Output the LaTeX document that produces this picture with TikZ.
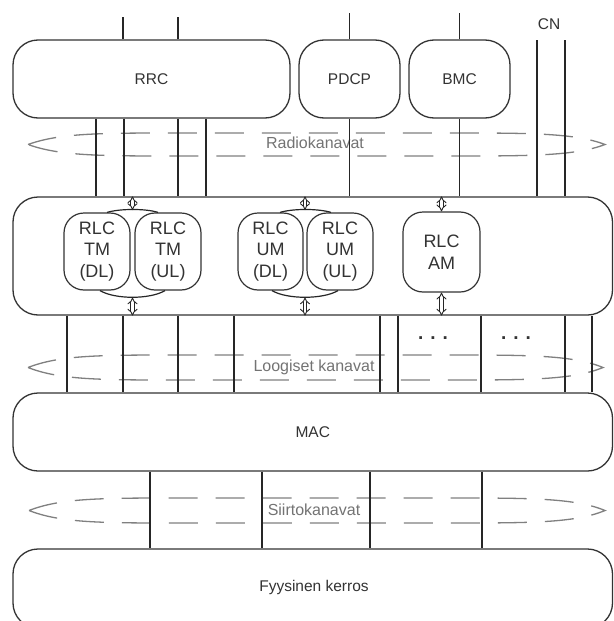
\documentclass[tikz,border=0pt]{standalone}
\usepackage{fontspec}
\setmainfont{Liberation Sans}
\usetikzlibrary{arrows.meta}
\begin{document}
\begin{tikzpicture}[x=1pt,y=-1pt,
  box/.style={draw=black!80, line width=1.3pt, rounded corners=25pt, inner sep=0pt,
    font=\fontsize{15.5}{18}\selectfont, text=black!80},
  sub/.style={draw=black!80, line width=1.2pt, rounded corners=20pt, inner sep=0pt,
    align=center, font=\fontsize{18}{21.6}\selectfont, text=black!80},
  ln/.style={line width=1.2pt, draw=black!85},
  chan/.style={draw=black!50, line width=1.3pt, dash pattern=on 29pt off 18pt},
  chlabel/.style={text=black!55, font=\fontsize{16}{19}\selectfont},
  dbl/.style={double distance=2.6pt, line width=0.9pt, draw=black!85,
    {Implies[length=4pt]}-{Implies[length=4pt]}},
  dots/.style={text=black!80, font=\fontsize{19}{22}\selectfont\bfseries, anchor=base}
]
\clip (0,0) rectangle (613,621);
\fill[white] (0,0) rectangle (613,621);

% upper boxes
\node[box, minimum width=277pt, minimum height=78pt] (rrc) at (151.5,79) {RRC};
\node[box, minimum width=101pt, minimum height=78pt] (pdcp) at (349.5,79) {PDCP};
\node[box, minimum width=101pt, minimum height=78pt] (bmc) at (459.5,79) {BMC};
\node[text=black!80, font=\fontsize{15.5}{18}\selectfont] (cn) at (549,24) {CN};

% layer boxes
\node[box, minimum width=599.5pt, minimum height=118pt] (rlc) at (312.75,256) {};
\node[box, minimum width=599.5pt, minimum height=78pt] (mac) at (312.75,432) {MAC};
\node[box, minimum width=599.5pt, minimum height=79pt] (phy) at (312.75,588.5) {};
\node[text=black!80, font=\fontsize{15.5}{18}\selectfont] (phylabel) at (314,587) {Fyysinen kerros};

% RLC entities
\node[sub, minimum width=66pt, minimum height=77pt] (tmdl) at (97,251.5) {RLC\\TM\\(DL)};
\node[sub, minimum width=66pt, minimum height=77pt] (tmul) at (168,251.5) {RLC\\TM\\(UL)};
\node[sub, minimum width=65pt, minimum height=77pt] (umdl) at (270.5,251.5) {RLC\\UM\\(DL)};
\node[sub, minimum width=66pt, minimum height=77pt] (umul) at (340,251.5) {RLC\\UM\\(UL)};
\node[sub, minimum width=77pt, minimum height=80pt] (am) at (441.5,252) {RLC\\AM};

% channel "pipes"
\foreach \yc/\b/\l/\r in {144.5/11.5/28/605, 367.5/12.5/28/603, 510.5/12.5/29/605}{
  \draw[chan] (\l,\yc) .. controls (\l+32,\yc-\b) and (\l+72,\yc-\b) .. (\l+152,\yc-\b)
    -- (\r-155,\yc-\b) .. controls (\r-75,\yc-\b) and (\r-30,\yc-\b) .. (\r,\yc)
    .. controls (\r-30,\yc+\b) and (\r-75,\yc+\b) .. (\r-155,\yc+\b)
    -- (\l+152,\yc+\b) .. controls (\l+72,\yc+\b) and (\l+32,\yc+\b) .. (\l,\yc);
}
\node[chlabel] (radio) at (315,143) {Radiokanavat};
\node[chlabel] (logic) at (314,367) {Loogiset kanavat};
\node[chlabel] (trans) at (314,510) {Siirtokanavat};

% lines above upper boxes
\foreach \x in {123,178}{ \draw[ln] (rrc.north -| \x,0) -- (\x,17); }
\draw[ln] (pdcp.north) -- (349.5,13);
\draw[ln] (bmc.north) -- (459.5,13);
\foreach \x in {537,565}{ \draw[ln] (\x,40) -- (rlc.north -| \x,0); }

% radio bearers
\foreach \x in {96,124,178,206}{ \draw[ln] (rrc.south -| \x,0) -- (rlc.north -| \x,0); }
\draw[ln] (pdcp.south) -- (rlc.north -| pdcp.south);
\draw[ln] (bmc.south) -- (rlc.north -| bmc.south);

% logical channels
\foreach \x in {67,123,178,234,380,398,481,565,592}{ \draw[ln] (rlc.south -| \x,0) -- (mac.north -| \x,0); }
\node[dots] (d1) at (433,339) {. . .};
\node[dots] (d2) at (516,339) {. . .};

% transport channels
\foreach \x in {150,262,370,482}{ \draw[ln] (mac.south -| \x,0) -- (phy.north -| \x,0); }

% pair connectors and SAP arrows
\draw[ln] (tmdl.north -| 107,0) .. controls (120,208.5) and (146,208.5) .. (tmul.north -| 158,0);
\draw[ln] (tmdl.south -| 100,0) .. controls (115,299.5) and (150,299.5) .. (tmul.south -| 165,0);
\draw[ln] (umdl.north -| 280,0) .. controls (293,208.5) and (318,208.5) .. (umul.north -| 331,0);
\draw[ln] (umdl.south -| 272,0) .. controls (287,299.5) and (323,299.5) .. (umul.south -| 338,0);

\draw[dbl] (rlc.north -| 132.5,0) -- (132.5,210);
\draw[dbl] (132.5,297.5) -- (rlc.south -| 132.5,0);
\draw[dbl] (rlc.north -| 305,0) -- (305,210);
\draw[dbl] (305,297.5) -- (rlc.south -| 305,0);
\draw[dbl] (rlc.north -| am.north) -- (am.north);
\draw[dbl] (am.south) -- (rlc.south -| am.south);
\end{tikzpicture}
\end{document}
